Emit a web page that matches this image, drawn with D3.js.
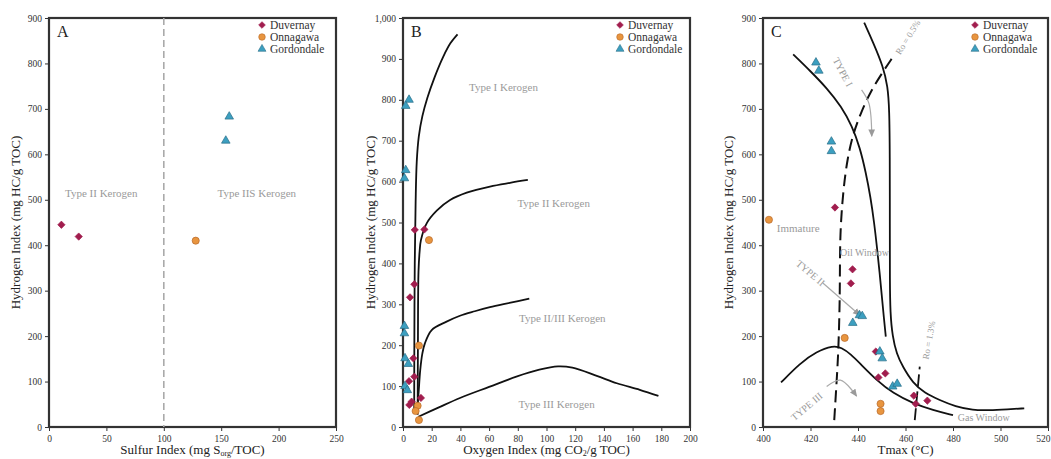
<!DOCTYPE html>
<html><head><meta charset="utf-8">
<script src="https://cdn.jsdelivr.net/npm/d3@7"></script>
<style>body{margin:0;background:#fff}svg{display:block}text{font-family:"Liberation Serif","Times New Roman",serif}</style>
</head><body><svg id="c" width="1051" height="459"></svg>
<script>
// ---------- DATA ----------
const series = ["Duvernay", "Onnagawa", "Gordondale"];
// Panel A: Sulfur Index vs HI
const aDuvernay = [[10.8, 445], [25.9, 419]];
const aOnnagawa = [[127.8, 410]];
const aGordondale = [[157, 683], [154, 630]];
const aXTicks = [0, 50, 100, 150, 200, 250];
const aYTicks = [0, 100, 200, 300, 400, 500, 600, 700, 800, 900];
// Panel B: Oxygen Index vs HI
const bDuvernay = [[8.2, 482], [14.9, 483], [7.9, 349], [4.9, 317], [7.2, 168], [7.9, 123], [4.2, 112], [6, 62], [4.4, 54], [12.5, 71]];
const bOnnagawa = [[18.1, 457], [11.1, 199], [10.2, 52], [8.8, 39], [11.1, 17]];
const bGordondale = [[4.2, 800], [1.9, 785], [1.9, 628], [1, 608], [1, 247], [1, 229], [1.4, 168], [3.7, 154], [1.4, 100], [3, 90]];
const bXTicks = [0, 20, 40, 60, 80, 100, 120, 140, 160, 180, 200];
const bYTicks = [0, 100, 200, 300, 400, 500, 600, 700, 800, 900, 1000];
const bTypeI = [[7.8, 40], [7.9, 200], [8.2, 400], [8.8, 550], [9.6, 650], [11, 710], [13.5, 760], [17, 805], [22, 855], [28, 905], [33, 938], [38, 960]];
const bTypeII = [[10.2, 30], [10.4, 200], [10.8, 380], [11.6, 430], [12.5, 457], [16.5, 498], [23.5, 529], [32.8, 555], [44.4, 573], [60.6, 588], [74.6, 597], [87, 604]];
const bTypeIII_ = [[10, 45], [10.8, 80], [12, 139], [13.5, 180], [15.3, 205], [20, 237], [30, 257], [39.7, 272], [50, 283], [60.6, 293], [75, 304], [88, 314]];
const bTypeIII = [[10.7, 25], [25, 48], [39.7, 71], [60, 98], [79, 123], [95, 140], [108, 148], [118, 145], [135, 125], [149, 107], [165, 91], [178, 76]];
// Panel C: Tmax vs HI
const cDuvernay = [[430.3, 483], [437.7, 347], [437, 316], [447.5, 166], [448.6, 109], [451.5, 118], [463.5, 69], [464.3, 51], [469.2, 58]];
const cOnnagawa = [[402.5, 456], [434.4, 196], [449.5, 51], [449.5, 35]];
const cGordondale = [[422.3, 802], [423.5, 784], [428.8, 628], [428.8, 607], [440.6, 246], [441.8, 244], [437.8, 229], [449.2, 166], [450.2, 151], [454.6, 89], [456.5, 95]];
const cXTicks = [400, 420, 440, 460, 480, 500, 520];
const cYTicks = [0, 100, 200, 300, 400, 500, 600, 700, 800, 900];
const cTypeI = [[442.6, 890], [446.5, 845], [450.6, 793], [452.5, 750], [453.2, 700], [453.4, 600], [453.4, 450], [453.4, 320], [453.6, 250], [454.5, 200], [456.3, 160], [458.8, 133], [463.2, 96], [468, 75], [474.4, 59], [481, 45], [488.4, 37], [495, 37], [503, 39], [510, 41]];
const cTypeII = [[412.7, 820], [420, 783], [427, 745], [433, 705], [437.5, 662], [440.8, 615], [443.3, 560], [445.3, 505], [446.8, 450], [448, 395], [449.1, 340], [450, 290], [450.9, 240], [451.7, 199]];
const cTypeIII = [[407.6, 98], [415.5, 140], [422.5, 166], [429.5, 179], [433, 175], [437, 160], [440.8, 140], [447.8, 103], [454.8, 74], [463.2, 52], [471.6, 37], [480, 26]];
const cRo05 = [[430, 15], [431, 100], [431.7, 162], [432.2, 250], [432.4, 320], [432.4, 426], [433.8, 522], [435.5, 590], [438, 647], [441.5, 695], [445, 735], [450, 778], [454.8, 815]];
const cRo13 = [[463.9, 15], [466, 133]];
const cArrowI = [[441.5, 742], [444.6, 712], [445.8, 640]];
const cArrowII = [[425.2, 317], [440.8, 246]];
const cArrowIII = [[426.8, 89], [432.6, 103], [439.4, 68]];

// ---------- STYLE ----------
const colors = {Duvernay: "#a11d4e", Onnagawa: "#e8953f", Gordondale: "#3c9fc0"};
const strokes = {Duvernay: "#a11d4e", Onnagawa: "#b8692a", Gordondale: "#2a6f88"};
const shapes = {Duvernay: d3.symbolDiamond2, Onnagawa: d3.symbolCircle, Gordondale: d3.symbolTriangle};
const sizes = {Duvernay: 34, Onnagawa: 40, Gordondale: 32};
const svg = d3.select("#c");
const plotTop = 18, plotBottom = 427;
const labelGray = "#9a9a9a";

function panel(opt) {
  const g = svg.append("g");
  const x = d3.scaleLinear().domain(opt.xd).range([opt.x0, opt.x1]);
  const y = d3.scaleLinear().domain(opt.yd).range([plotBottom, plotTop]);
  const ax = g.append("g").attr("transform", `translate(0,${plotBottom})`)
    .call(d3.axisBottom(x).tickValues(opt.xt).tickSize(4).tickPadding(4));
  const ay = g.append("g").attr("transform", `translate(${opt.x0},0)`)
    .call(d3.axisLeft(y).tickValues(opt.yt).tickSize(4).tickPadding(3));
  [ax, ay].forEach(a => {
    a.select(".domain").remove();
    a.selectAll("line").attr("stroke", "#333");
    a.selectAll("text").attr("font-size", 9.5).attr("fill", "#333").style("font-family", "Liberation Serif");
  });
  // keep the last x tick label inside the page
  ax.selectAll(".tick text").filter(d => x(d) + 8 > 1051).attr("text-anchor", "end").attr("dx", 2);
  g.append("rect").attr("x", opt.x0).attr("y", plotTop).attr("width", opt.x1 - opt.x0).attr("height", plotBottom - plotTop)
    .attr("fill", "none").attr("stroke", "#333").attr("stroke-width", 2.2);
  g.append("text").attr("x", opt.x0 + 8).attr("y", plotTop + 19).attr("font-size", 16).attr("fill", "#222").text(opt.letter);
  g.append("text").attr("transform", `translate(${opt.ylx},${(plotTop + plotBottom) / 2}) rotate(-90)`)
    .attr("text-anchor", "middle").attr("font-size", 13).attr("fill", "#222").text("Hydrogen Index (mg HC/g TOC)");
  const xt = g.append("text").attr("x", (opt.x0 + opt.x1) / 2).attr("y", 454).attr("text-anchor", "middle")
    .attr("font-size", 13).attr("fill", "#222");
  opt.xlabel(xt);
  series.forEach((s, i) => {
    const yy = 25 + i * 12;
    g.append("path").attr("d", d3.symbol().type(shapes[s]).size(sizes[s] * 0.85)())
      .attr("transform", `translate(${opt.x1 - opt.legOff},${yy})`)
      .attr("fill", colors[s]).attr("stroke", strokes[s]).attr("stroke-width", 0.6);
    g.append("text").attr("x", opt.x1 - opt.legOff + 8).attr("y", yy + 4).attr("font-size", 11.5).attr("fill", "#333").text(s);
  });
  return {g, x, y};
}

function points(p, data, s) {
  p.g.append("g").selectAll("path").data(data).join("path")
    .attr("d", d3.symbol().type(shapes[s]).size(sizes[s])())
    .attr("transform", d => `translate(${p.x(d[0])},${p.y(d[1])})`)
    .attr("fill", colors[s]).attr("stroke", strokes[s]).attr("stroke-width", 0.7);
}
function curve(p, data, opts = {}) {
  const line = d3.line().x(d => p.x(d[0])).y(d => p.y(d[1]))
    .curve(opts.basis ? d3.curveBasis : d3.curveCatmullRom.alpha(0.5));
  return p.g.append("path").attr("d", line(data)).attr("fill", "none")
    .attr("stroke", opts.color || "#111").attr("stroke-width", opts.w || 1.8)
    .attr("stroke-dasharray", opts.dash || null).attr("marker-end", opts.marker || null);
}
function label(p, xv, yv, txt, opts = {}) {
  return p.g.append("text").attr("font-size", opts.size || 11).attr("fill", labelGray)
    .attr("text-anchor", opts.anchor || "middle")
    .attr("transform", `translate(${p.x(xv)},${p.y(yv)}) rotate(${opts.rot || 0})`)
    .attr("dy", "0.35em").text(txt);
}

svg.append("defs").append("marker").attr("id", "arr").attr("viewBox", "0 0 10 10").attr("refX", 8).attr("refY", 5)
  .attr("markerWidth", 7).attr("markerHeight", 7).attr("orient", "auto-start-reverse")
  .append("path").attr("d", "M0,1 L9,5 L0,9 Z").attr("fill", "#9a9a9a");

// ---------- PANEL A ----------
const A = panel({x0: 49, x1: 336, xd: [0, 250], yd: [0, 900], xt: aXTicks, yt: aYTicks, letter: "A", ylx: 20, legOff: 74,
  xlabel: t => { t.append("tspan").text("Sulfur Index (mg S"); t.append("tspan").attr("font-size", 8).attr("dy", 2).text("org"); t.append("tspan").attr("dy", -2).text("/TOC)"); }});
A.g.append("line").attr("x1", A.x(100)).attr("x2", A.x(100)).attr("y1", plotTop).attr("y2", plotBottom)
  .attr("stroke", "#aaa").attr("stroke-width", 1.6).attr("stroke-dasharray", "7,4");
label(A, 45.5, 514, "Type II Kerogen");
label(A, 181, 514, "Type IIS Kerogen");
points(A, aDuvernay, "Duvernay"); points(A, aOnnagawa, "Onnagawa"); points(A, aGordondale, "Gordondale");

// ---------- PANEL B ----------
const B = panel({x0: 403, x1: 690, xd: [0, 200], yd: [0, 1000], xt: bXTicks, yt: bYTicks, letter: "B", ylx: 375, legOff: 70,
  xlabel: t => { t.append("tspan").text("Oxygen Index (mg CO"); t.append("tspan").attr("font-size", 8).attr("dy", 2).text("2"); t.append("tspan").attr("dy", -2).text("/g TOC)"); }});
curve(B, bTypeI); curve(B, bTypeII); curve(B, bTypeIII_); curve(B, bTypeIII);
label(B, 70, 830, "Type I Kerogen");
label(B, 105, 547, "Type II Kerogen");
label(B, 111, 266, "Type II/III Kerogen");
label(B, 107, 56, "Type III Kerogen");
points(B, bDuvernay, "Duvernay"); points(B, bOnnagawa, "Onnagawa"); points(B, bGordondale, "Gordondale");

// ---------- PANEL C ----------
const C = panel({x0: 763, x1: 1048, xd: [400, 520], yd: [0, 900], xt: cXTicks, yt: cYTicks, letter: "C", ylx: 733, legOff: 73,
  xlabel: t => t.text("Tmax (°C)")});
curve(C, cTypeI, {basis: true}); curve(C, cTypeII, {basis: true}); curve(C, cTypeIII, {basis: true});
curve(C, cRo05, {dash: "12,6", w: 2, basis: true});
curve(C, cRo13, {dash: "12,5", w: 1.8});
curve(C, cArrowI, {color: "#aaa", w: 1.2, marker: "url(#arr)"});
curve(C, cArrowII, {color: "#aaa", w: 1.2, marker: "url(#arr)"});
curve(C, cArrowIII, {color: "#aaa", w: 1.2, marker: "url(#arr)"});
label(C, 433.6, 781, "TYPE I", {rot: 62, size: 10});
label(C, 420, 339, "TYPE II", {rot: 40, size: 10});
label(C, 418.4, 45, "TYPE III", {rot: -40, size: 10});
label(C, 461, 858, "Ro = 0.5%", {rot: -58, size: 9});
label(C, 469.8, 191, "Ro = 1.3%", {rot: -80, size: 9});
label(C, 405.8, 438, "Immature", {anchor: "start", size: 11});
label(C, 432.4, 383, "Oil Window", {anchor: "start", size: 10});
label(C, 482, 21, "Gas Window", {anchor: "start", size: 10});
points(C, cDuvernay, "Duvernay"); points(C, cOnnagawa, "Onnagawa"); points(C, cGordondale, "Gordondale");
</script></body></html>
